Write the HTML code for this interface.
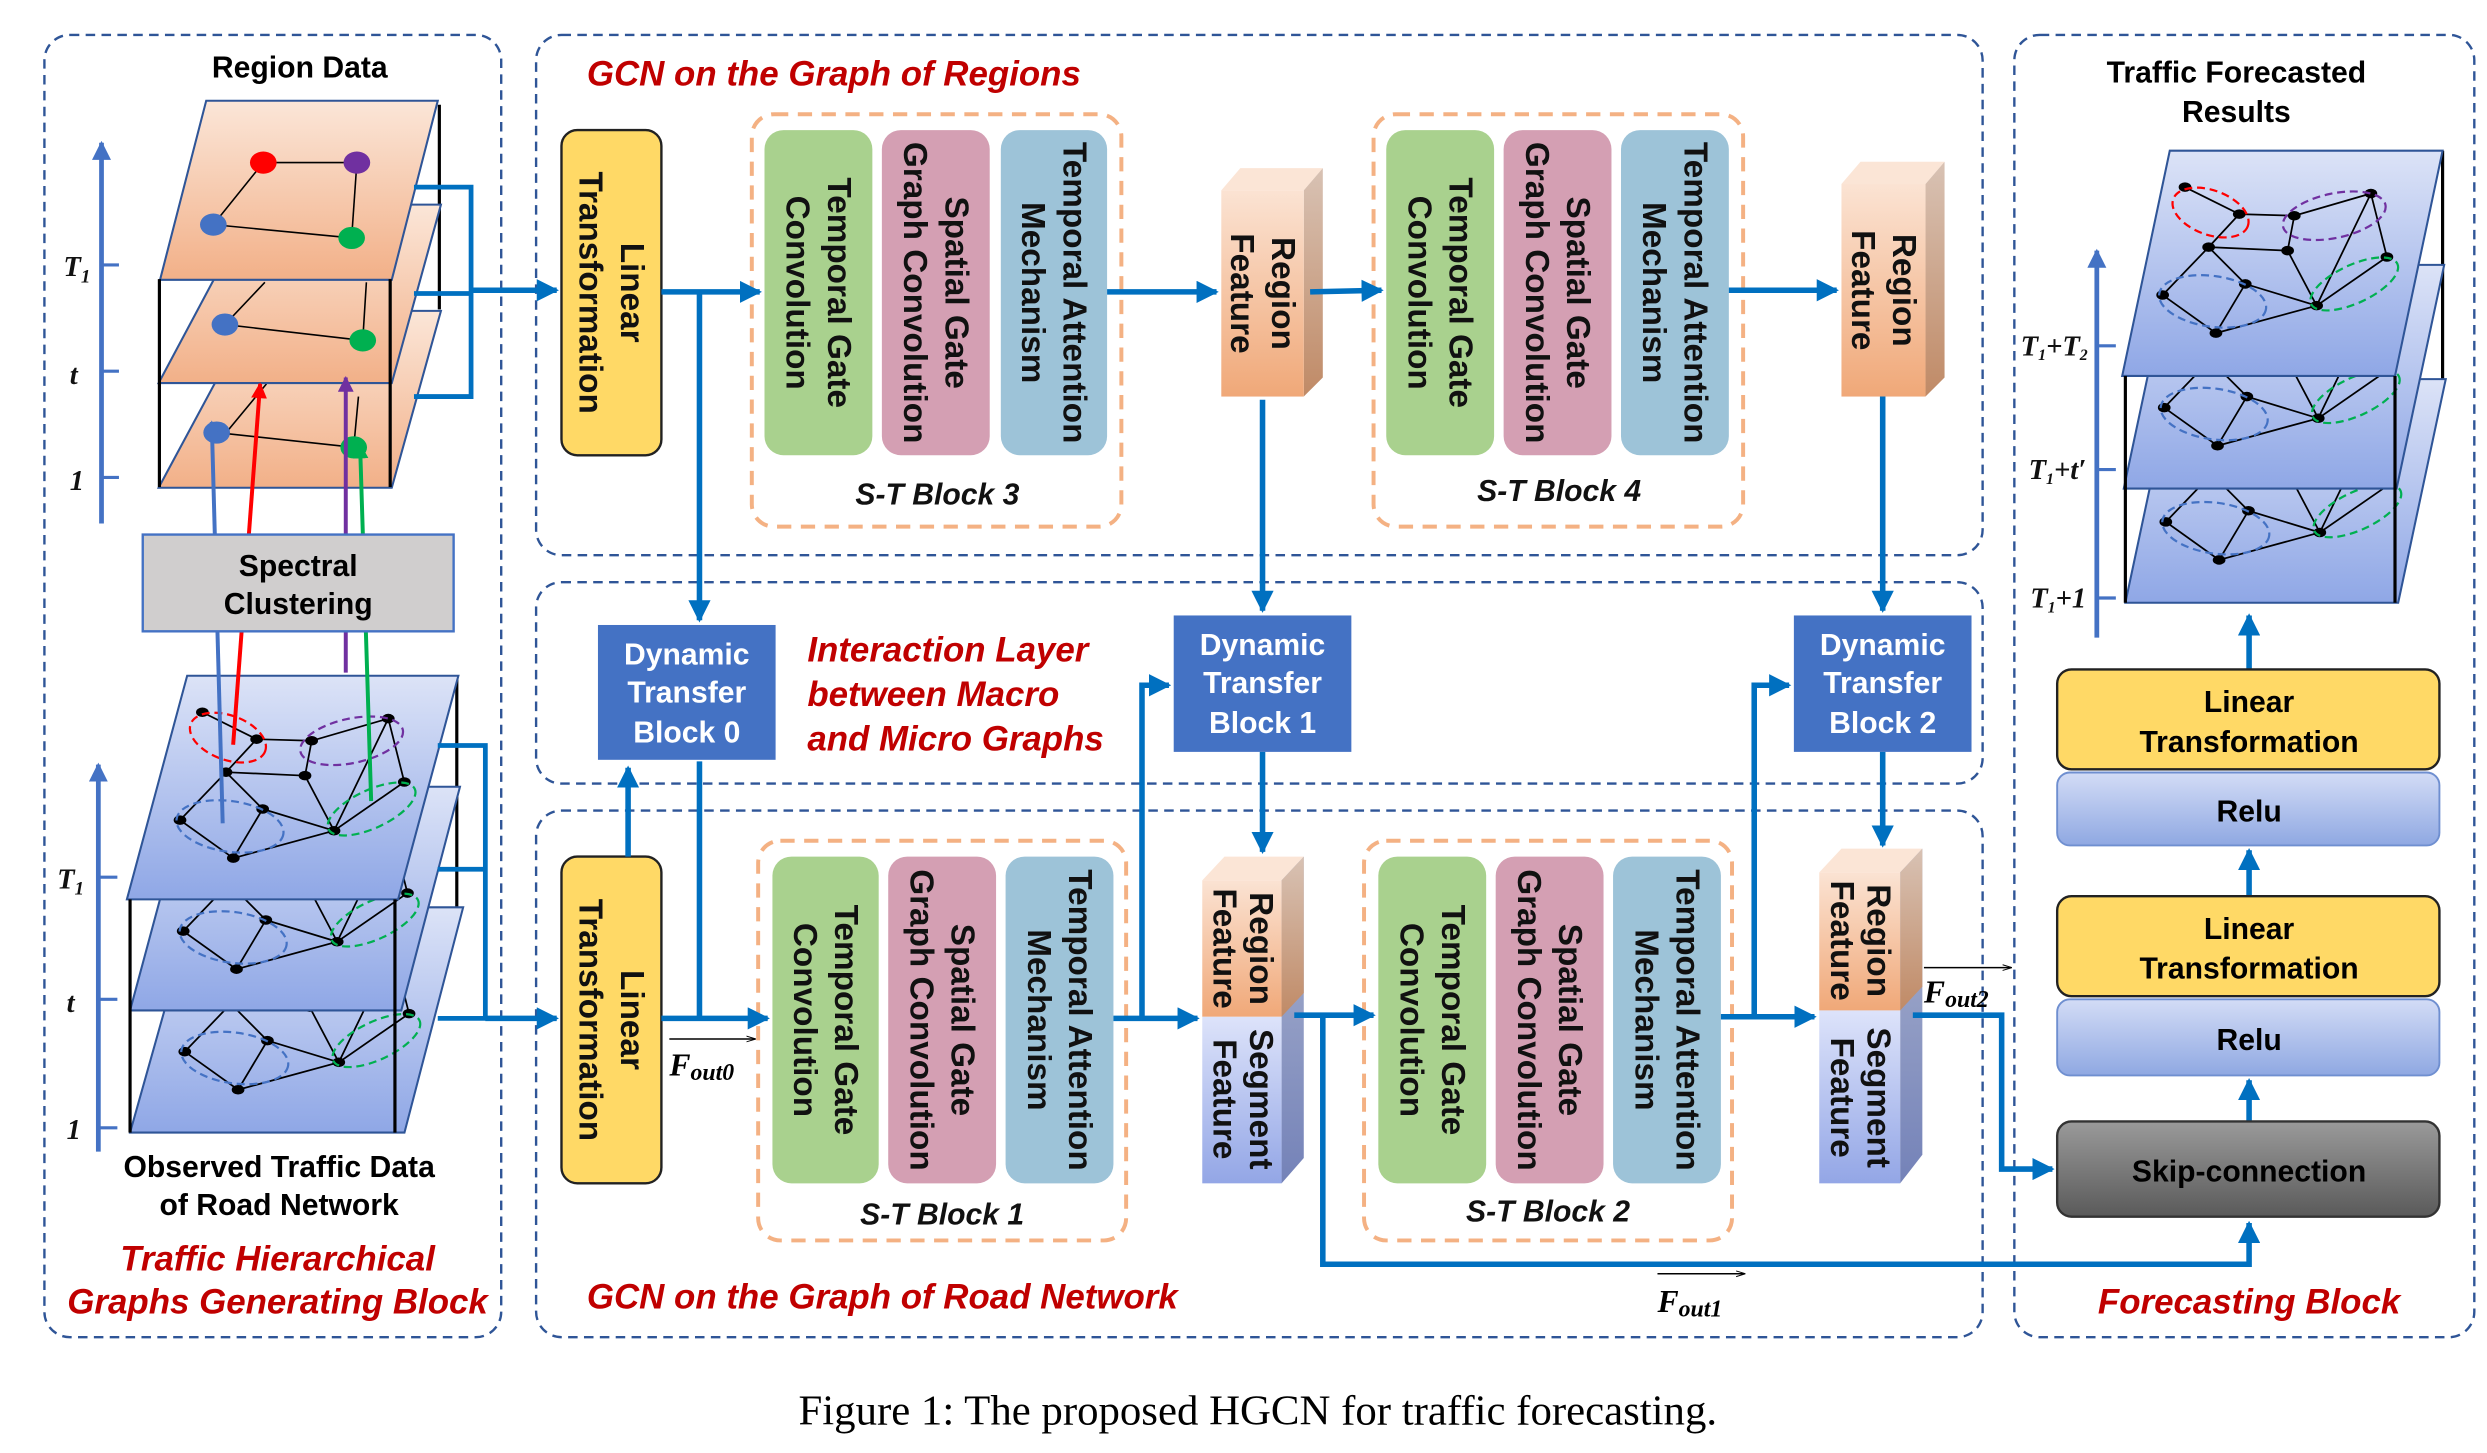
<!DOCTYPE html>
<html><head><meta charset="utf-8"><style>
html,body{margin:0;padding:0;background:#fff;}
svg{display:block;}
text{font-family:"Liberation Sans",Arial,sans-serif;}
.vt{font-weight:bold;font-size:21px;fill:#111;text-anchor:middle;}
.red{font-weight:bold;font-style:italic;fill:#c00000;font-size:22px;}
.dtb{font-weight:bold;fill:#fff;font-size:19px;text-anchor:middle;}
.blk{font-weight:bold;font-style:italic;font-size:19px;text-anchor:middle;fill:#111;}
.ax{font-weight:bold;font-style:italic;font-size:18px;fill:#111;font-family:"Liberation Serif",serif;}
.fl{font-family:"Liberation Serif",serif;font-style:italic;font-weight:bold;}
.cap{font-family:"Liberation Serif",serif;}
</style></head><body>
<svg width="2487" height="1453" viewBox="0 0 1568 916" preserveAspectRatio="none" xmlns="http://www.w3.org/2000/svg">
<defs>
<linearGradient id="peach" x1="0" y1="0" x2="0" y2="1"><stop offset="0" stop-color="#fbe6d8"/><stop offset="1" stop-color="#f2b088"/></linearGradient>
<linearGradient id="blu" x1="0" y1="0" x2="0" y2="1"><stop offset="0" stop-color="#dce3f7"/><stop offset="1" stop-color="#8fa7e6"/></linearGradient>
<linearGradient id="rf" x1="0" y1="0" x2="0" y2="1"><stop offset="0" stop-color="#fbe3d3"/><stop offset="1" stop-color="#f0a878"/></linearGradient>
<linearGradient id="rfs" x1="0" y1="0" x2="0" y2="1"><stop offset="0" stop-color="#d8c2b4"/><stop offset="1" stop-color="#c08a66"/></linearGradient>
<linearGradient id="sf" x1="0" y1="0" x2="0" y2="1"><stop offset="0" stop-color="#dde3fa"/><stop offset="1" stop-color="#93a6e6"/></linearGradient>
<linearGradient id="sfs" x1="0" y1="0" x2="0" y2="1"><stop offset="0" stop-color="#aeb6d0"/><stop offset="1" stop-color="#7482b8"/></linearGradient>
<linearGradient id="relu" x1="0" y1="0" x2="0" y2="1"><stop offset="0" stop-color="#d3dcf6"/><stop offset="1" stop-color="#8fa8e2"/></linearGradient>
<linearGradient id="gray" x1="0" y1="0" x2="0" y2="1"><stop offset="0" stop-color="#9a9a9a"/><stop offset="1" stop-color="#5a5a5a"/></linearGradient>
<marker id="ar" viewBox="0 0 10 10" refX="9" refY="5" markerWidth="4" markerHeight="4" orient="auto"><path d="M0,0 L10,5 L0,10 z" fill="#0070c0"/></marker>
<marker id="arB" viewBox="0 0 10 10" refX="9" refY="5" markerWidth="4" markerHeight="4" orient="auto"><path d="M0,0 L10,5 L0,10 z" fill="#4472c4"/></marker>
<marker id="arR" viewBox="0 0 10 10" refX="9" refY="5" markerWidth="4" markerHeight="4" orient="auto"><path d="M0,0 L10,5 L0,10 z" fill="#ff0000"/></marker>
<marker id="arP" viewBox="0 0 10 10" refX="9" refY="5" markerWidth="4" markerHeight="4" orient="auto"><path d="M0,0 L10,5 L0,10 z" fill="#7030a0"/></marker>
<marker id="arG" viewBox="0 0 10 10" refX="9" refY="5" markerWidth="4" markerHeight="4" orient="auto"><path d="M0,0 L10,5 L0,10 z" fill="#00b050"/></marker>
<marker id="sm" viewBox="0 0 10 10" refX="9" refY="5" markerWidth="6" markerHeight="6" orient="auto"><path d="M0,2 L10,5 L0,8" fill="none" stroke="#000" stroke-width="1"/></marker>
<g id="graph">
 <g stroke="#000" stroke-width="1.1" fill="none">
  <path d="M127.6,449 L161.8,466 L142.5,486.8 L113.5,517 L147.1,541 L165.6,510 L142.5,486.8 L192.3,489 L210.6,523.7 L244.8,453 L254.9,493 L210.6,523.7 L147.1,541 M165.6,510 L210.6,523.7 M161.8,466 L196.5,467 L244.8,453 M196.5,467 L192.3,489"/>
 </g>
 <g fill="#000">
  <ellipse cx="127.6" cy="449" rx="4" ry="3"/><ellipse cx="161.8" cy="466" rx="4" ry="3"/><ellipse cx="142.5" cy="486.8" rx="4" ry="3"/><ellipse cx="113.5" cy="517" rx="4" ry="3"/><ellipse cx="165.6" cy="510" rx="4" ry="3"/><ellipse cx="147.1" cy="541" rx="4" ry="3"/><ellipse cx="196.5" cy="467" rx="4" ry="3"/><ellipse cx="192.3" cy="489" rx="4" ry="3"/><ellipse cx="244.8" cy="453" rx="4" ry="3"/><ellipse cx="254.9" cy="493" rx="4" ry="3"/><ellipse cx="210.6" cy="523.7" rx="4" ry="3"/>
 </g>
 <g fill="none" stroke-width="1.4" stroke-dasharray="5,3">
  <ellipse cx="143.7" cy="465" rx="25" ry="14" transform="rotate(20 143.7 465)" stroke="#ff0000"/>
  <ellipse cx="221.7" cy="467" rx="33" ry="14" transform="rotate(-12 221.7 467)" stroke="#7030a0"/>
  <ellipse cx="145" cy="521" rx="34" ry="16" transform="rotate(8 145 521)" stroke="#4472c4"/>
  <ellipse cx="234.3" cy="510" rx="30" ry="12" transform="rotate(-25 234.3 510)" stroke="#00b050"/>
 </g>
</g>
</defs>

<g fill="none" stroke="#2f5597" stroke-width="1.5" stroke-dasharray="6,4">
<rect x="28" y="22" width="288" height="821" rx="16"/>
<rect x="338" y="22" width="912" height="328" rx="16"/>
<rect x="338" y="367" width="912" height="127" rx="16"/>
<rect x="338" y="511" width="912" height="332" rx="16"/>
<rect x="1270" y="22" width="290" height="821" rx="16"/>
</g>

<text x="189" y="49" font-size="19" font-weight="bold" text-anchor="middle">Region Data</text>
<line x1="64" y1="330" x2="64" y2="90" stroke="#4472c4" stroke-width="3" marker-end="url(#arB)"/>
<g stroke="#4472c4" stroke-width="2"><line x1="64" y1="167" x2="75" y2="167"/><line x1="64" y1="234" x2="75" y2="234"/><line x1="64" y1="301" x2="75" y2="301"/></g>
<text class="ax" x="40" y="174" font-size="20">T<tspan font-size="12" dy="4">1</tspan></text>
<text class="ax" x="44" y="242" font-size="20">t</text>
<text class="ax" x="44" y="309" font-size="20">1</text>
<line x1="277" y1="66" x2="277" y2="195" stroke="#000" stroke-width="2"/>
<polygon points="160,196 278,196 247,307.5 100,307.5" fill="url(#peach)" stroke="#2f5597" stroke-width="1.3"/>
<line x1="144" y1="271" x2="168" y2="242" stroke="#000" stroke-width="1"/><line x1="136.6" y1="272.7" x2="223" y2="282" stroke="#000"/><line x1="223" y1="282" x2="226" y2="250" stroke="#000"/>
<ellipse cx="136.6" cy="272.7" rx="8.4" ry="7" fill="#4472c4"/><ellipse cx="223" cy="282" rx="8.4" ry="7" fill="#00b050"/>
<polygon points="160,129 278,129 247,241.5 100,241.5" fill="url(#peach)" stroke="#2f5597" stroke-width="1.3"/>
<line x1="141.8" y1="204.6" x2="167" y2="178" stroke="#000"/><line x1="141.8" y1="204.6" x2="228.7" y2="214.6" stroke="#000"/><line x1="228.7" y1="214.6" x2="231" y2="178" stroke="#000"/>
<ellipse cx="141.8" cy="204.6" rx="8.4" ry="7" fill="#4472c4"/><ellipse cx="228.7" cy="214.6" rx="8.4" ry="7" fill="#00b050"/>
<polygon points="130,63.5 276,63.5 247,176.4 100.9,176.4" fill="url(#peach)" stroke="#2f5597" stroke-width="1.3"/>
<g stroke="#000" stroke-width="1"><line x1="134.5" y1="141.6" x2="166" y2="102.5"/><line x1="166" y1="102.5" x2="225" y2="102.5"/><line x1="225" y1="102.5" x2="221.7" y2="150"/><line x1="134.5" y1="141.6" x2="221.7" y2="150"/></g>
<ellipse cx="166" cy="102.5" rx="8.4" ry="7" fill="#ff0000"/><ellipse cx="225" cy="102.5" rx="8.4" ry="7" fill="#7030a0"/><ellipse cx="134.5" cy="141.6" rx="8.4" ry="7" fill="#4472c4"/><ellipse cx="221.7" cy="150" rx="8.4" ry="7" fill="#00b050"/>
<line x1="100.5" y1="176" x2="100.5" y2="307" stroke="#000" stroke-width="2"/>
<line x1="246" y1="176" x2="246" y2="307" stroke="#000" stroke-width="2"/>
<g stroke="#0070c0" stroke-width="3" fill="none"><polyline points="261,118 297,118 297,250 261,250"/><line x1="261" y1="185" x2="297" y2="185"/></g>

<line x1="62" y1="726" x2="62" y2="482" stroke="#4472c4" stroke-width="3" marker-end="url(#arB)"/>
<g stroke="#4472c4" stroke-width="2"><line x1="62" y1="553" x2="74" y2="553"/><line x1="62" y1="630" x2="74" y2="630"/><line x1="62" y1="711" x2="74" y2="711"/></g>
<text class="ax" x="36" y="560" font-size="20">T<tspan font-size="12" dy="4">1</tspan></text>
<text class="ax" x="42" y="638" font-size="20">t</text>
<text class="ax" x="42" y="718" font-size="20">1</text>
<line x1="288" y1="426" x2="288" y2="572" stroke="#000" stroke-width="2"/>
<polygon points="122,572 292,572 255,714 82,714" fill="url(#blu)" stroke="#2f5597" stroke-width="1.3"/>
<use href="#graph" transform="translate(3,146)"/>
<polygon points="120,496 290,496 253,637 82,637" fill="url(#blu)" stroke="#2f5597" stroke-width="1.3"/>
<use href="#graph" transform="translate(2,70)"/>
<polygon points="118,426 289,426 251,567 80,567" fill="url(#blu)" stroke="#2f5597" stroke-width="1.3"/>
<use href="#graph"/>
<line x1="82" y1="567" x2="82" y2="714" stroke="#000" stroke-width="2"/>
<line x1="249" y1="567" x2="249" y2="714" stroke="#000" stroke-width="2"/>
<g stroke="#0070c0" stroke-width="3" fill="none"><polyline points="276,470 306,470 306,642 276,642"/><line x1="276" y1="548" x2="306" y2="548"/></g>
<line x1="140.4" y1="519" x2="133.5" y2="266" stroke="#4472c4" stroke-width="2.5" marker-end="url(#arB)"/>
<line x1="147" y1="469.5" x2="164" y2="242" stroke="#ff0000" stroke-width="2.5" marker-end="url(#arR)"/>
<line x1="218" y1="424" x2="218" y2="238" stroke="#7030a0" stroke-width="2.5" marker-end="url(#arP)"/>
<line x1="234" y1="505" x2="227" y2="280" stroke="#00b050" stroke-width="2.5" marker-end="url(#arG)"/>
<rect x="90" y="337" width="196" height="61" fill="#d0cece" stroke="#4472c4" stroke-width="1.5"/>
<text x="188" y="363" font-size="19" font-weight="bold" text-anchor="middle">Spectral</text>
<text x="188" y="387" font-size="19" font-weight="bold" text-anchor="middle">Clustering</text>

<text x="176" y="742" font-size="19" font-weight="bold" text-anchor="middle">Observed Traffic Data</text>
<text x="176" y="766" font-size="19" font-weight="bold" text-anchor="middle">of Road Network</text>
<text class="red" x="175" y="801" text-anchor="middle">Traffic Hierarchical</text>
<text class="red" x="175" y="828" text-anchor="middle">Graphs Generating Block</text>

<text class="red" x="370" y="54">GCN on the Graph of Regions</text>
<text class="red" x="370" y="825">GCN on the Graph of Road Network</text>
<text class="red" x="509" y="417">Interaction Layer</text>
<text class="red" x="509" y="445">between Macro</text>
<text class="red" x="509" y="473">and Micro Graphs</text>

<rect x="354" y="82" width="63" height="205" rx="10" fill="#ffd966" stroke="#222" stroke-width="1.5"/>
<text class="vt" transform="translate(385.5,184.5) rotate(90)"><tspan x="0" y="-6">Linear</tspan><tspan x="0" y="20">Transformation</tspan></text>
<rect x="354" y="540" width="63" height="206" rx="10" fill="#ffd966" stroke="#222" stroke-width="1.5"/>
<text class="vt" transform="translate(385.5,643) rotate(90)"><tspan x="0" y="-6">Linear</tspan><tspan x="0" y="20">Transformation</tspan></text>

<g fill="none" stroke="#f4b183" stroke-width="2.5" stroke-dasharray="9,6">
<rect x="474" y="72" width="233" height="260" rx="14"/>
<rect x="866" y="72" width="233" height="260" rx="14"/>
<rect x="478" y="530" width="232" height="252" rx="14"/>
<rect x="860" y="530" width="232" height="252" rx="14"/>
</g>
<rect x="482" y="82" width="68" height="205" rx="12" fill="#a9d18e"/>
<rect x="556" y="82" width="68" height="205" rx="12" fill="#d49fb3"/>
<rect x="631" y="82" width="67" height="205" rx="12" fill="#9dc3d8"/>
<text class="vt" transform="translate(516,184.5) rotate(90)"><tspan x="0" y="-6">Temporal Gate</tspan><tspan x="0" y="20">Convolution</tspan></text>
<text class="vt" transform="translate(590,184.5) rotate(90)"><tspan x="0" y="-6">Spatial Gate</tspan><tspan x="0" y="20">Graph Convolution</tspan></text>
<text class="vt" transform="translate(664.5,184.5) rotate(90)"><tspan x="0" y="-6">Temporal Attention</tspan><tspan x="0" y="20">Mechanism</tspan></text>
<text class="blk" x="591" y="318">S-T Block 3</text>
<rect x="874" y="82" width="68" height="205" rx="12" fill="#a9d18e"/>
<rect x="948" y="82" width="68" height="205" rx="12" fill="#d49fb3"/>
<rect x="1022" y="82" width="68" height="205" rx="12" fill="#9dc3d8"/>
<text class="vt" transform="translate(908,184.5) rotate(90)"><tspan x="0" y="-6">Temporal Gate</tspan><tspan x="0" y="20">Convolution</tspan></text>
<text class="vt" transform="translate(982,184.5) rotate(90)"><tspan x="0" y="-6">Spatial Gate</tspan><tspan x="0" y="20">Graph Convolution</tspan></text>
<text class="vt" transform="translate(1056,184.5) rotate(90)"><tspan x="0" y="-6">Temporal Attention</tspan><tspan x="0" y="20">Mechanism</tspan></text>
<text class="blk" x="983" y="316">S-T  Block 4</text>
<rect x="487" y="540" width="67" height="206" rx="12" fill="#a9d18e"/>
<rect x="560" y="540" width="68" height="206" rx="12" fill="#d49fb3"/>
<rect x="634" y="540" width="68" height="206" rx="12" fill="#9dc3d8"/>
<text class="vt" transform="translate(520.5,643) rotate(90)"><tspan x="0" y="-6">Temporal Gate</tspan><tspan x="0" y="20">Convolution</tspan></text>
<text class="vt" transform="translate(594,643) rotate(90)"><tspan x="0" y="-6">Spatial Gate</tspan><tspan x="0" y="20">Graph Convolution</tspan></text>
<text class="vt" transform="translate(668,643) rotate(90)"><tspan x="0" y="-6">Temporal Attention</tspan><tspan x="0" y="20">Mechanism</tspan></text>
<text class="blk" x="594" y="772">S-T  Block 1</text>
<rect x="869" y="540" width="68" height="206" rx="12" fill="#a9d18e"/>
<rect x="943" y="540" width="68" height="206" rx="12" fill="#d49fb3"/>
<rect x="1017" y="540" width="68" height="206" rx="12" fill="#9dc3d8"/>
<text class="vt" transform="translate(903,643) rotate(90)"><tspan x="0" y="-6">Temporal Gate</tspan><tspan x="0" y="20">Convolution</tspan></text>
<text class="vt" transform="translate(977,643) rotate(90)"><tspan x="0" y="-6">Spatial Gate</tspan><tspan x="0" y="20">Graph Convolution</tspan></text>
<text class="vt" transform="translate(1051,643) rotate(90)"><tspan x="0" y="-6">Temporal Attention</tspan><tspan x="0" y="20">Mechanism</tspan></text>
<text class="blk" x="976" y="770">S-T  Block 2</text>

<polygon points="770,120 822,120 834,106 782,106" fill="#fbe5d6"/>
<polygon points="822,120 834,106 834,238 822,250" fill="url(#rfs)"/>
<rect x="770" y="120" width="52" height="130" fill="url(#rf)"/>
<text class="vt" transform="translate(796,185) rotate(90)"><tspan x="0" y="-6">Region</tspan><tspan x="0" y="20">Feature</tspan></text>
<polygon points="1161,116 1214,116 1226,102 1173,102" fill="#fbe5d6"/>
<polygon points="1214,116 1226,102 1226,238 1214,250" fill="url(#rfs)"/>
<rect x="1161" y="116" width="53" height="134" fill="url(#rf)"/>
<text class="vt" transform="translate(1187.5,183) rotate(90)"><tspan x="0" y="-6">Region</tspan><tspan x="0" y="20">Feature</tspan></text>

<polygon points="758,555 808,555 822,540 772,540" fill="#fbe5d6"/>
<polygon points="808,555 822,540 822,730 808,746" fill="url(#sfs)"/>
<polygon points="808,555 822,540 822,626 808,641" fill="url(#rfs)"/>
<rect x="758" y="555" width="50" height="86" fill="url(#rf)"/>
<rect x="758" y="641" width="50" height="105" fill="url(#sf)"/>
<text class="vt" transform="translate(783,598) rotate(90)" font-size="19"><tspan x="0" y="-5">Region</tspan><tspan x="0" y="18">Feature</tspan></text>
<text class="vt" transform="translate(783,693) rotate(90)" font-size="19"><tspan x="0" y="-5">Segment</tspan><tspan x="0" y="18">Feature</tspan></text>
<polygon points="1147,550 1198,550 1212,535 1161,535" fill="#fbe5d6"/>
<polygon points="1198,550 1212,535 1212,728 1198,746" fill="url(#sfs)"/>
<polygon points="1198,550 1212,535 1212,622 1198,637" fill="url(#rfs)"/>
<rect x="1147" y="550" width="51" height="87" fill="url(#rf)"/>
<rect x="1147" y="637" width="51" height="109" fill="url(#sf)"/>
<text class="vt" transform="translate(1172.5,593) rotate(90)" font-size="19"><tspan x="0" y="-5">Region</tspan><tspan x="0" y="18">Feature</tspan></text>
<text class="vt" transform="translate(1172.5,692) rotate(90)" font-size="19"><tspan x="0" y="-5">Segment</tspan><tspan x="0" y="18">Feature</tspan></text>

<rect x="377" y="394" width="112" height="85" fill="#4472c4"/>
<text class="dtb" x="433" y="419">Dynamic</text><text class="dtb" x="433" y="443">Transfer</text><text class="dtb" x="433" y="468">Block 0</text>
<rect x="740" y="388" width="112" height="86" fill="#4472c4"/>
<text class="dtb" x="796" y="413">Dynamic</text><text class="dtb" x="796" y="437">Transfer</text><text class="dtb" x="796" y="462">Block 1</text>
<rect x="1131" y="388" width="112" height="86" fill="#4472c4"/>
<text class="dtb" x="1187" y="413">Dynamic</text><text class="dtb" x="1187" y="437">Transfer</text><text class="dtb" x="1187" y="462">Block 2</text>

<g stroke="#0070c0" stroke-width="3.5" fill="none">
<line x1="297" y1="183" x2="351" y2="183" marker-end="url(#ar)"/>
<line x1="417" y1="184" x2="479" y2="184" marker-end="url(#ar)"/>
<line x1="441" y1="184" x2="441" y2="391" marker-end="url(#ar)"/>
<line x1="698" y1="184" x2="767" y2="184" marker-end="url(#ar)"/>
<line x1="826" y1="184" x2="871" y2="183" marker-end="url(#ar)"/>
<line x1="1090" y1="183" x2="1158" y2="183" marker-end="url(#ar)"/>
<line x1="796" y1="252" x2="796" y2="385" marker-end="url(#ar)"/>
<line x1="1187" y1="250" x2="1187" y2="385" marker-end="url(#ar)"/>
<line x1="306" y1="642" x2="351" y2="642" marker-end="url(#ar)"/>
<line x1="396" y1="540" x2="396" y2="484" marker-end="url(#ar)"/>
<polyline points="441,480 441,642"/>
<line x1="417" y1="642" x2="484" y2="642" marker-end="url(#ar)"/>
<line x1="702" y1="642" x2="755" y2="642" marker-end="url(#ar)"/>
<polyline points="720,642 720,432 737,432" marker-end="url(#ar)"/>
<line x1="796" y1="474" x2="796" y2="537" marker-end="url(#ar)"/>
<line x1="816" y1="640" x2="866" y2="640" marker-end="url(#ar)"/>
<polyline points="834,640 834,797 1418,797 1418,771" marker-end="url(#ar)"/>
<line x1="1085" y1="641" x2="1144" y2="641" marker-end="url(#ar)"/>
<polyline points="1106,641 1106,432 1128,432" marker-end="url(#ar)"/>
<line x1="1187" y1="474" x2="1187" y2="533" marker-end="url(#ar)"/>
<polyline points="1206,640 1262,640 1262,737 1294,737" marker-end="url(#ar)"/>
<line x1="1418" y1="707" x2="1418" y2="681" marker-end="url(#ar)"/>
<line x1="1418" y1="565" x2="1418" y2="536" marker-end="url(#ar)"/>
<line x1="1418" y1="422" x2="1418" y2="388" marker-end="url(#ar)"/>
</g>
<line x1="422" y1="655" x2="476" y2="655" stroke="#000" stroke-width="1" marker-end="url(#sm)"/>
<text class="fl" x="422" y="678" font-size="20">F<tspan font-size="15" dy="3">out0</tspan></text>
<line x1="1045" y1="803" x2="1100" y2="803" stroke="#000" stroke-width="1" marker-end="url(#sm)"/>
<text class="fl" x="1045" y="827" font-size="20">F<tspan font-size="15" dy="3">out1</tspan></text>
<line x1="1213" y1="610" x2="1268" y2="610" stroke="#000" stroke-width="1" marker-end="url(#sm)"/>
<text class="fl" x="1213" y="632" font-size="20">F<tspan font-size="15" dy="3">out2</tspan></text>

<text x="1410" y="52" font-size="19" font-weight="bold" text-anchor="middle">Traffic Forecasted</text>
<text x="1410" y="77" font-size="19" font-weight="bold" text-anchor="middle">Results</text>
<line x1="1322" y1="402" x2="1322" y2="158" stroke="#4472c4" stroke-width="3" marker-end="url(#arB)"/>
<g stroke="#4472c4" stroke-width="2"><line x1="1322" y1="218" x2="1334" y2="218"/><line x1="1322" y1="296" x2="1334" y2="296"/><line x1="1322" y1="377" x2="1334" y2="377"/></g>
<text x="1274" y="224" class="ax" font-size="16">T<tspan font-size="10" dy="3">1</tspan><tspan dy="-3">+T</tspan><tspan font-size="10" dy="3">2</tspan></text>
<text x="1279" y="302" class="ax" font-size="16">T<tspan font-size="10" dy="3">1</tspan><tspan dy="-3">+t′</tspan></text>
<text x="1280" y="383" class="ax" font-size="16">T<tspan font-size="10" dy="3">1</tspan><tspan dy="-3">+1</tspan></text>
<line x1="1540" y1="95" x2="1540" y2="240" stroke="#000" stroke-width="2"/>
<polygon points="1370,239 1542,239 1512,380 1340,380" fill="url(#blu)" stroke="#2f5597" stroke-width="1.3"/>
<use href="#graph" transform="translate(1252,-188)"/>
<polygon points="1369,167 1541,167 1511,308 1339,308" fill="url(#blu)" stroke="#2f5597" stroke-width="1.3"/>
<use href="#graph" transform="translate(1251,-260)"/>
<polygon points="1368,95 1540,95 1510,237 1338,237" fill="url(#blu)" stroke="#2f5597" stroke-width="1.3"/>
<use href="#graph" transform="translate(1250,-331)"/>
<line x1="1340" y1="237" x2="1340" y2="380" stroke="#000" stroke-width="2"/>
<line x1="1510" y1="237" x2="1510" y2="380" stroke="#000" stroke-width="2"/>

<rect x="1297" y="487" width="241" height="46" rx="8" fill="url(#relu)" stroke="#6f8fd0" stroke-width="1.2"/>
<text x="1418" y="518" font-size="19" font-weight="bold" text-anchor="middle">Relu</text>
<rect x="1297" y="422" width="241" height="63" rx="9" fill="#ffd966" stroke="#222" stroke-width="1.5"/>
<text x="1418" y="449" font-size="19" font-weight="bold" text-anchor="middle">Linear</text>
<text x="1418" y="474" font-size="19" font-weight="bold" text-anchor="middle">Transformation</text>
<rect x="1297" y="630" width="241" height="48" rx="8" fill="url(#relu)" stroke="#6f8fd0" stroke-width="1.2"/>
<text x="1418" y="662" font-size="19" font-weight="bold" text-anchor="middle">Relu</text>
<rect x="1297" y="565" width="241" height="63" rx="9" fill="#ffd966" stroke="#222" stroke-width="1.5"/>
<text x="1418" y="592" font-size="19" font-weight="bold" text-anchor="middle">Linear</text>
<text x="1418" y="617" font-size="19" font-weight="bold" text-anchor="middle">Transformation</text>
<rect x="1297" y="707" width="241" height="60" rx="9" fill="url(#gray)" stroke="#333" stroke-width="1.5"/>
<text x="1418" y="745" font-size="19" font-weight="bold" text-anchor="middle">Skip-connection</text>
<text class="red" x="1418" y="828" text-anchor="middle">Forecasting Block</text>

<text class="cap" x="793" y="898" font-size="27" text-anchor="middle" style="font-family:'Liberation Serif',serif">Figure 1: The proposed HGCN for traffic forecasting.</text>
</svg>
</body></html>
